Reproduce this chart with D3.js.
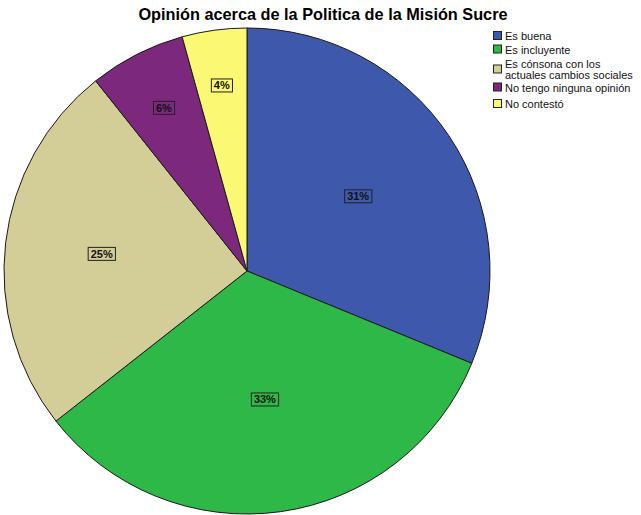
<!DOCTYPE html>
<html><head><meta charset="utf-8">
<script src="https://cdn.jsdelivr.net/npm/d3@7"></script>
<style>body{margin:0;background:#fff}svg{display:block}</style>
</head><body>
<script>
const categories = ["Es buena","Es incluyente","Es cónsona con los actuales cambios sociales","No tengo ninguna opinión","No contestó"];
const legendLines = [["Es buena"],["Es incluyente"],["Es cónsona con los","actuales cambios sociales"],["No tengo ninguna opinión"],["No contestó"]];
const values = [31.2, 33.2, 24.9, 6.4, 4.3];
const colors = ["#3e58ac","#2eb848","#d3ce97","#7c287d","#fbf873"];
const title = "Opinión acerca de la Politica de la Misión Sucre";

const W = 641, H = 515;
const svg = d3.select("body").append("svg").attr("width", W).attr("height", H);
svg.append("text").attr("x", 323).attr("y", 20).attr("text-anchor","middle")
  .attr("font-family","Liberation Sans, Arial, sans-serif").attr("font-weight","bold")
  .attr("font-size", 16.3).attr("fill","#000").text(title);

const cx = 247, cy = 271, r = 243;
const data = categories.map((c,i)=>({c, v: values[i], col: colors[i]}));
const pie = d3.pie().value(d=>d.v).sort(null);
const arcs = pie(data);
const arc = d3.arc().innerRadius(0).outerRadius(r);
const g = svg.append("g").attr("transform",`translate(${cx},${cy})`);
g.selectAll("path").data(arcs).join("path").attr("d", arc)
  .attr("fill", d=>d.data.col).attr("stroke","#1a1a1a").attr("stroke-width",1);

const total = d3.sum(values);
const lab = g.selectAll("g.lab").data(arcs).join("g").attr("class","lab")
  .attr("transform", d=>{
    const pct = d.data.v/total*100;
    const f = 0.805 - 0.00815*pct;
    const a = (d.startAngle+d.endAngle)/2;
    return `translate(${Math.sin(a)*r*f},${-Math.cos(a)*r*f})`;
  });
lab.append("text").attr("text-anchor","middle").attr("dy","0.35em")
  .attr("font-family","Liberation Sans, Arial, sans-serif").attr("font-weight","bold")
  .attr("font-size",11).attr("fill","#111")
  .text(d=>Math.round(d.data.v/total*100)+"%");
lab.each(function(){
  const t = d3.select(this).select("text").node().getBBox();
  d3.select(this).insert("rect","text").attr("x", t.x-2.5).attr("y", t.y-0.5)
    .attr("width", t.width+5).attr("height", t.height+1)
    .attr("fill","none").attr("stroke","#222").attr("stroke-width",1);
});

const lg = svg.append("g").attr("transform","translate(493,0)");
const rowY = [36, 49.5, 69.5, 87.5, 104];
legendLines.forEach((lines,i)=>{
  lg.append("rect").attr("x",0.5).attr("y",rowY[i]-4.5).attr("width",8).attr("height",8)
    .attr("fill",colors[i]).attr("stroke","#222").attr("stroke-width",1);
  const t = lg.append("text").attr("x",12).attr("font-family","Liberation Sans, Arial, sans-serif")
    .attr("font-size",11).attr("fill","#111");
  lines.forEach((ln,j)=>{
    t.append("tspan").attr("x",12)
      .attr("y", rowY[i] + (j - (lines.length-1)/2)*10.5 + 4)
      .text(ln);
  });
});
</script>
</body></html>
